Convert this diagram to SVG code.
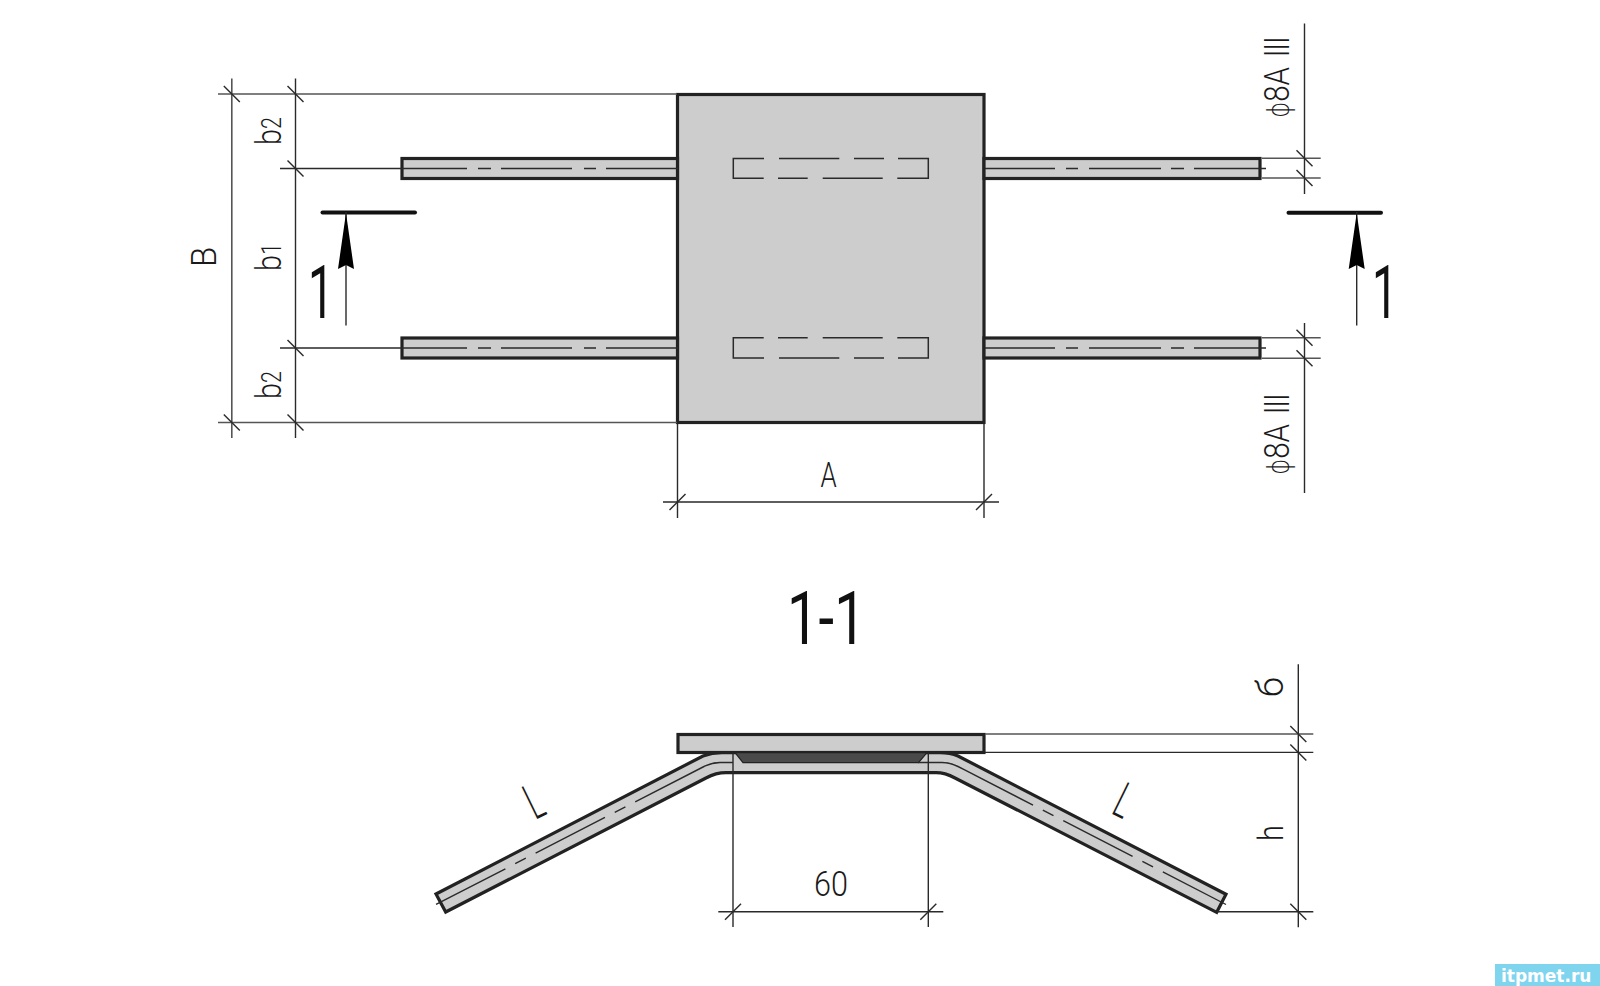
<svg xmlns="http://www.w3.org/2000/svg" width="1600" height="986" viewBox="0 0 1600 986">
<style>
.bg{fill:#fff}
.part{fill:#cdcdcd;stroke:#222;stroke-width:3.2;stroke-linejoin:miter}
.thin{fill:none;stroke:#2a2a2a;stroke-width:1.4}
.ext{fill:none;stroke:#555;stroke-width:1.6}
.hid{fill:none;stroke:#2a2a2a;stroke-width:1.5}
.sec{fill:none;stroke:#111;stroke-width:4;stroke-linecap:round}
.t{font-family:"Roboto","Liberation Sans",sans-serif;font-weight:300;font-size:36px;fill:#1a1a1a}
.big{font-family:"Roboto","Liberation Sans",sans-serif;font-weight:400;font-size:74px;fill:#111}
.phi{font-family:"DejaVu Sans",sans-serif;font-weight:200;font-size:30px}
.long{stroke-dasharray:72 10 12 12 71 10 13 11 1000}
.longr{stroke-dasharray:70 11 12 11 72 10 13 10 100}
</style>
<defs>
<path id="tick" d="M-8,-8L8,8" class="thin"/>
<path id="tickf" d="M-8,8L8,-8" class="thin"/>
<path id="arrow" d="M0,0L8,56L0,52L-8,56Z" fill="#000"/>
</defs>
<rect class="bg" width="1600" height="986"/>

<g id="plate-plan"><rect class="part" x="677.5" y="94.5" width="306.5" height="328"/></g>
<g id="bar-top-left"><rect class="part" x="402" y="158.5" width="275.5" height="20"/></g>
<g id="bar-bottom-left"><rect class="part" x="402" y="338" width="275.5" height="20"/></g>
<g id="bar-top-right"><rect class="part" x="984" y="158.5" width="276" height="20"/></g>
<g id="bar-bottom-right"><rect class="part" x="984" y="338" width="276" height="20"/></g>
<g id="weld-top"><path class="hid" d="M764,158.5H733.3V178.3H763.7M779,158.5H839.3M854,158.5H884M898,158.5H928.3V178.3H897.3M778,178.3H807.7M822.7,178.3H882.7"/></g>
<g id="weld-bottom"><path class="hid" d="M763.7,337.8H733.3V358H764M778,337.8H807.7M822.7,337.8H882.7M897.3,337.8H928.3V358H898M779,358H839.3M854,358H884"/></g>

<g id="section-plate"><rect class="part" x="678" y="734.5" width="306" height="18"/></g>
<g id="section-rod">
<path class="part" d="M436,894L703,756Q712,752.7 722,752.7H940Q950,752.7 958,756L1226,894.3L1216.7,912.3L955,778Q945,772.7 936,772.7H726Q716,772.7 706,778L445.7,912Z"/>
<path d="M735,752.7L743,762.7H918.5L927,752.7Z" fill="#4a4a4a" stroke="#222" stroke-width="1.2"/>
<path class="thin" d="M733,762.5H720Q712,762.5 704,766.5L436,904.5" style="stroke-dasharray:29 0 78 11 12 11 78 11 12 11 78 11 12 11 100"/>
<path class="thin" d="M918,762.5H942Q950,762.5 958,766.5L1226,904.5" style="stroke-dasharray:47 0 78 11 12 11 78 11 12 11 78 11 12 11 100"/>
</g>

<g id="connectors">
<g id="center-lines">
<path class="thin long" d="M678,168.5H280"/>
<path class="thin long" d="M678,348H280"/>
<path class="thin longr" d="M985,168.5H1266"/>
<path class="thin longr" d="M985,348H1266"/>
</g>
<g id="dim-left">
<path class="ext" d="M218,94H677M218,422.5H677M231.8,78.5V438"/>
<path class="thin" d="M295.5,78.5V438"/>
<use href="#tick" x="231.8" y="94"/><use href="#tick" x="231.8" y="422.5"/>
<use href="#tick" x="295.5" y="94"/><use href="#tick" x="295.5" y="168.5"/><use href="#tick" x="295.5" y="348"/><use href="#tick" x="295.5" y="422.5"/>
</g>
<g id="dim-right">
<path class="thin" d="M1304.5,23.5V194M1304.5,323V493"/>
<path class="ext" d="M1262,158.3H1320.7M1262,178H1320.7M1262,337.7H1320.7M1262,358.3H1320.7"/>
<use href="#tick" x="1304.5" y="158.3"/><use href="#tick" x="1304.5" y="178"/><use href="#tick" x="1304.5" y="337.7"/><use href="#tick" x="1304.5" y="358.3"/>
</g>
<g id="dim-a">
<path class="thin" d="M677.5,424V518M984,424V518M663,502H999"/>
<use href="#tickf" x="677.5" y="502"/><use href="#tickf" x="984" y="502"/>
</g>
<g id="dim-60">
<path class="thin" d="M733,753V927M928.3,753V927M718.3,911.7H943.3"/>
<use href="#tickf" x="733" y="911.7"/><use href="#tickf" x="928.3" y="911.7"/>
</g>
<g id="dim-section-right">
<path class="thin" d="M1298.3,664.3V927.3M985,752.4H1313.3M1217,911.7H1313.3"/>
<path class="ext" d="M985,734H1313.3"/>
<use href="#tick" x="1298.3" y="734"/><use href="#tick" x="1298.3" y="752.4"/><use href="#tick" x="1298.3" y="911.7"/>
</g>
<g id="section-mark-left">
<path class="sec" d="M322.5,212.5H415"/>
<path class="thin" d="M346,212V325.5"/>
<use href="#arrow" x="346" y="213"/>
</g>
<g id="section-mark-right">
<path class="sec" d="M1288.5,212.7H1381"/>
<path class="thin" d="M1356.7,212V325.5"/>
<use href="#arrow" x="1356.7" y="213"/>
</g>
</g>

<g id="labels">
<text class="t" transform="translate(216,267) rotate(-90) scale(.92,1)">B</text>
<text class="t" transform="translate(280.5,145) rotate(-90) scale(.8,1)">b<tspan font-size="27">2</tspan></text>
<text class="t" transform="translate(280.5,271) rotate(-90) scale(.8,1)">b<tspan font-size="27">1</tspan></text>
<text class="t" transform="translate(280.5,399) rotate(-90) scale(.8,1)">b<tspan font-size="27">2</tspan></text>
<text class="t" transform="translate(1289,118) rotate(-90) scale(.82,1)"><tspan class="phi">ϕ</tspan>8A <tspan dx="3" letter-spacing="-1.5">III</tspan></text>
<text class="t" transform="translate(1289,475) rotate(-90) scale(.82,1)"><tspan class="phi">ϕ</tspan>8A <tspan dx="3" letter-spacing="-1.5">III</tspan></text>
<text class="t" transform="translate(820.5,486.5) scale(.72,1)">A</text>
<text class="t" transform="translate(814,895.5) scale(.85,1)">60</text>
<text class="t" transform="translate(1282.7,697) rotate(-90)">б</text>
<text class="t" transform="translate(1282.7,841) rotate(-90) scale(.8,1)">h</text>
<text class="t" style="font-size:50px" transform="translate(535,820) rotate(-26) scale(.55,1)">L</text>
<text class="t" style="font-size:50px" transform="translate(1110,813) rotate(26) scale(.55,1)">L</text>
<text class="big" transform="translate(308,318) scale(.62,1)">1</text>
<text class="big" transform="translate(1372,318) scale(.62,1)">1</text>
<text class="big" transform="translate(787,644) scale(.76,1)">1-1</text>
</g>

<g id="watermark">
<rect x="1495" y="964" width="105" height="22" fill="#7fd4ee"/>
<text x="1501" y="982" font-family="DejaVu Sans,sans-serif" font-weight="700" font-size="17" fill="#fff">itpmet.ru</text>
</g>
</svg>
